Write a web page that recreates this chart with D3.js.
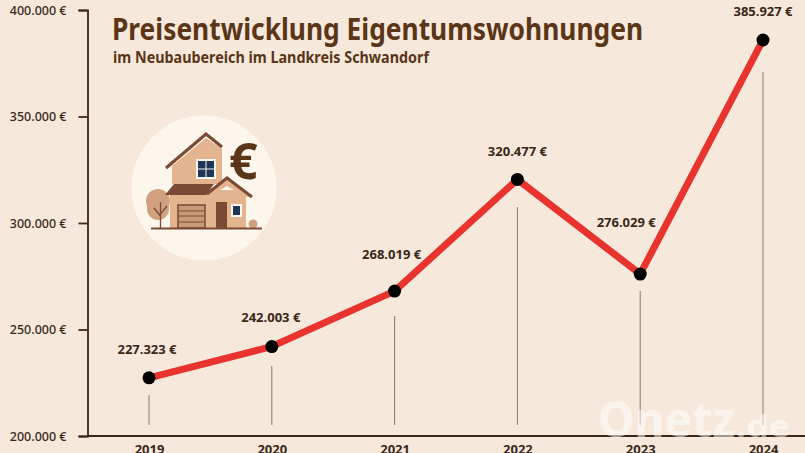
<!DOCTYPE html>
<html>
<head>
<meta charset="utf-8">
<script src="https://cdn.jsdelivr.net/npm/d3@7"></script>
<style>
  html, body { margin: 0; padding: 0; background: #f6e9dc; overflow: hidden; }
  svg { display: block; }
  text { font-family: "Noto Sans", sans-serif; }
</style>
</head>
<body>
<svg id="graph" width="805" height="453"></svg>
<script>
var years = ["2019", "2020", "2021", "2022", "2023", "2024"];
var prices = [227323, 242003, 268019, 320477, 276029, 385927];
var priceLabels = ["227.323 €", "242.003 €", "268.019 €", "320.477 €", "276.029 €", "385.927 €"];
var yTicks = [200000, 250000, 300000, 350000, 400000];
var yTickLabels = ["200.000 €", "250.000 €", "300.000 €", "350.000 €", "400.000 €"];

var brown = "#3a2718";
var svg = d3.select("#graph");

var xScale = d3.scalePoint().domain(years).range([149, 763]);
var yScale = d3.scaleLinear().domain([200000, 400000]).range([436, 10]);

// axes, ticks on the left stick out a bit
var yAxis = d3.axisLeft(yScale)
  .tickValues(yTicks)
  .tickSize(9)
  .tickPadding(12)
  .tickFormat(function (d, i) { return yTickLabels[i]; });
var gy = svg.append("g").attr("transform", "translate(87.5,0)").call(yAxis);
gy.select(".domain").attr("stroke", brown).attr("stroke-width", 1.8);
gy.selectAll(".tick line").attr("stroke", brown).attr("stroke-width", 1.8);
gy.selectAll(".tick text")
  .attr("font-size", 12.5).attr("font-weight", 500)
  .attr("font-family", "Noto Sans").attr("fill", brown);

var xAxis = d3.axisBottom(xScale).tickSize(0).tickPadding(9);
var gx = svg.append("g").attr("transform", "translate(0,436)").call(xAxis);
gx.select(".domain").attr("d", "M87,0H805").attr("stroke", brown).attr("stroke-width", 1.8);
gx.selectAll(".tick text")
  .attr("font-size", 13).attr("font-weight", 700)
  .attr("font-family", "Noto Sans").attr("fill", brown);

// thin drop lines under each point
var dropTop = [395, 366, 316, 207, 291, 72];
svg.selectAll(".drop").data(years).enter().append("line")
  .attr("class", "drop")
  .attr("x1", function (d) { return xScale(d); })
  .attr("x2", function (d) { return xScale(d); })
  .attr("y1", function (d, i) { return dropTop[i]; })
  .attr("y2", 425)
  .attr("stroke", "#8a7a6c").attr("stroke-width", 1);

var line = d3.line()
  .x(function (d, i) { return xScale(years[i]); })
  .y(function (d) { return yScale(d); });

svg.append("path").datum(prices)
  .attr("d", line)
  .attr("fill", "none")
  .attr("stroke", "#e8332e")
  .attr("stroke-width", 7);

svg.selectAll(".dot").data(prices).enter().append("circle")
  .attr("class", "dot")
  .attr("cx", function (d, i) { return xScale(years[i]); })
  .attr("cy", function (d) { return yScale(d); })
  .attr("r", 6.5)
  .attr("fill", "#000");

// value labels
var labelDx = [-2, -1, -3, 0, -14, 0];
var labelDy = [-24, -25, -32, -23, -47, -24];
svg.selectAll(".val").data(prices).enter().append("text")
  .attr("class", "val")
  .attr("x", function (d, i) { return xScale(years[i]) + labelDx[i]; })
  .attr("y", function (d, i) { return yScale(d) + labelDy[i]; })
  .attr("text-anchor", "middle")
  .attr("font-size", 13).attr("font-weight", 700)
  .attr("fill", brown)
  .text(function (d, i) { return priceLabels[i]; });

// title
svg.append("text").attr("x", 112).attr("y", 40)
  .attr("font-size", 30).attr("font-weight", 700)
  .attr("font-family", "Lato").attr("fill", "#5b3517")
  .attr("textLength", 531).attr("lengthAdjust", "spacingAndGlyphs")
  .text("Preisentwicklung Eigentumswohnungen");
svg.append("text").attr("x", 113).attr("y", 63)
  .attr("font-size", 16).attr("font-weight", 700)
  .attr("font-family", "Lato").attr("fill", "#5b3517")
  .attr("textLength", 316).attr("lengthAdjust", "spacingAndGlyphs")
  .text("im Neubaubereich im Landkreis Schwandorf");

// house icon
var icon = svg.append("g");
icon.append("circle").attr("cx", 204).attr("cy", 188).attr("r", 72.5).attr("fill", "#fdf6ec");
icon.append("circle").attr("cx", 158).attr("cy", 201).attr("r", 12).attr("fill", "#d0a07f");
icon.append("circle").attr("cx", 158).attr("cy", 209).attr("r", 11).attr("fill", "#d0a07f");
icon.append("path").attr("d", "M160.5,228V202M160.5,216L154,208M160.5,214L167,206")
  .attr("stroke", "#7a4a35").attr("stroke-width", 1.3).attr("fill", "none");
icon.append("circle").attr("cx", 253).attr("cy", 224).attr("r", 4.5).attr("fill", "#d0a07f");
icon.append("path").attr("d", "M172,184V166L206,138L222,149V184Z").attr("fill", "#e4b48f");
icon.append("path").attr("d", "M166,168L206,134L222,147").attr("stroke", "#7a4a35").attr("stroke-width", 3.2).attr("fill", "none");
icon.append("rect").attr("x", 196).attr("y", 159).attr("width", 20).attr("height", 20).attr("fill", "#fdf6ec");
icon.append("rect").attr("x", 198).attr("y", 161).attr("width", 16).attr("height", 16).attr("fill", "#1d3557");
icon.append("path").attr("d", "M206,161V177M198,169H214").attr("stroke", "#fdf6ec").attr("stroke-width", 1);
icon.append("rect").attr("x", 170).attr("y", 190).attr("width", 76).attr("height", 38).attr("fill", "#e4b48f");
icon.append("path").attr("d", "M208,195L227,179L252,197L246,197L227,186L208,197Z").attr("fill", "#e4b48f");
icon.append("path").attr("d", "M174,184H214L206,195H165Z").attr("fill", "#7a4a35");
icon.append("path").attr("d", "M207,194L227,178L252,197").attr("stroke", "#7a4a35").attr("stroke-width", 3).attr("fill", "none");
icon.append("rect").attr("x", 178).attr("y", 205).attr("width", 27).attr("height", 23).attr("fill", "#c99a78").attr("stroke", "#7a4a35").attr("stroke-width", 1.5);
icon.append("path").attr("d", "M178,211H205M178,216H205M178,222H205").attr("stroke", "#7a4a35").attr("stroke-width", 1);
icon.append("rect").attr("x", 216).attr("y", 202).attr("width", 11).attr("height", 26).attr("fill", "#7a4a35");
icon.append("rect").attr("x", 231).attr("y", 204).attr("width", 11).attr("height", 13).attr("fill", "#fdf6ec");
icon.append("rect").attr("x", 233).attr("y", 206).attr("width", 7).attr("height", 9).attr("fill", "#1d3557");
icon.append("line").attr("x1", 151).attr("x2", 262).attr("y1", 228.5).attr("y2", 228.5).attr("stroke", "#7a4a35").attr("stroke-width", 2);
icon.append("text").attr("x", 229).attr("y", 179).attr("font-size", 50).attr("font-weight", 700)
  .attr("font-family", "Noto Sans").attr("fill", "#5b3517").text("€");

// watermark
svg.append("text").attr("x", 598).attr("y", 437)
  .attr("font-size", 48).attr("font-weight", 700)
  .attr("font-family", "Noto Sans").attr("fill", "#fff").attr("fill-opacity", 0.55)
  .attr("textLength", 137).attr("lengthAdjust", "spacingAndGlyphs")
  .text("Onetz");
svg.append("text").attr("x", 736).attr("y", 437)
  .attr("font-size", 30).attr("font-weight", 700)
  .attr("font-family", "Noto Sans").attr("fill", "#fff").attr("fill-opacity", 0.55)
  .attr("textLength", 54).attr("lengthAdjust", "spacingAndGlyphs")
  .text(".de");
</script>
</body>
</html>
